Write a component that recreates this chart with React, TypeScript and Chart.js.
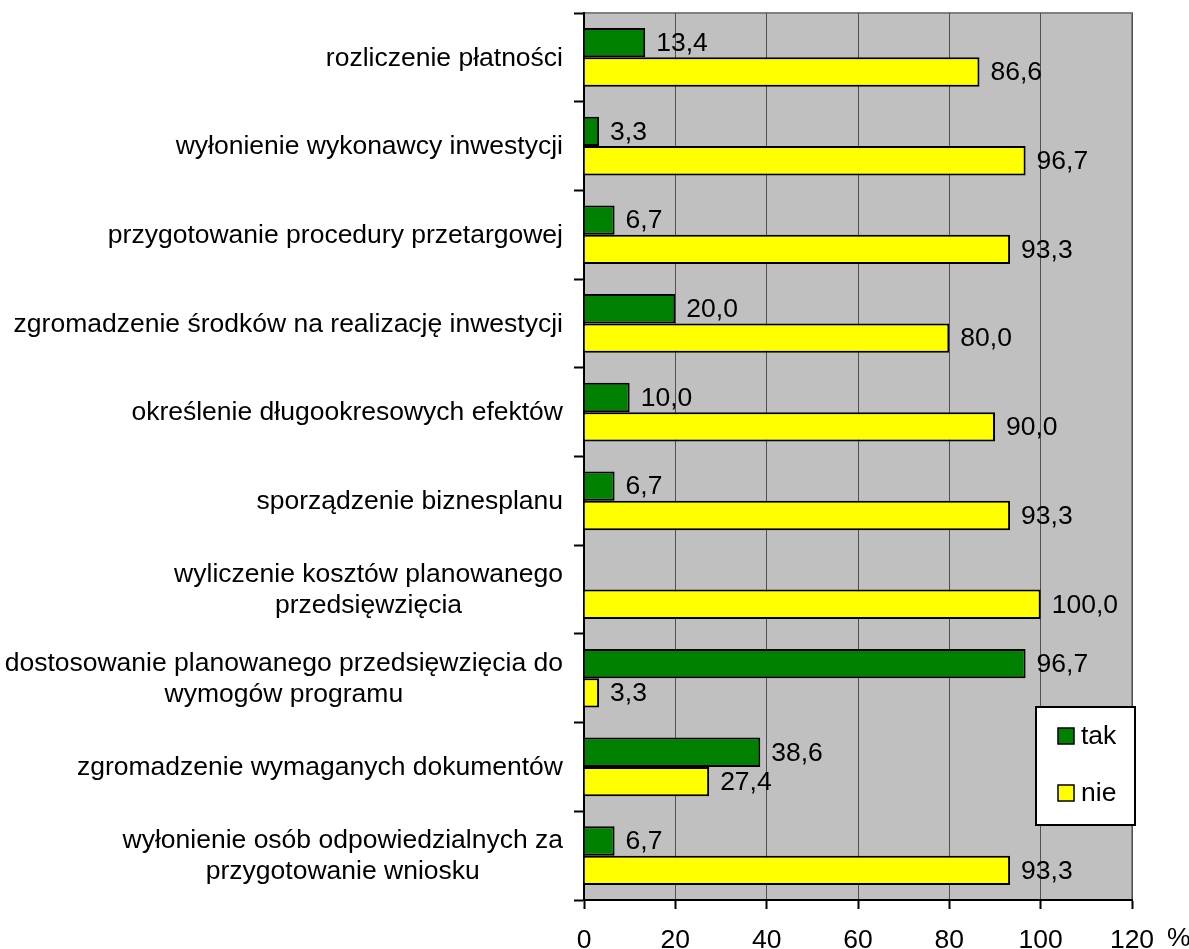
import React, { useEffect, useRef } from "react";
import { Chart, registerables } from "chart.js";

Chart.register(...registerables);

const FONT = "'Liberation Sans', Arial, sans-serif";
const FONT_SIZE = 26.5;

const categories: (string | string[])[] = [
  "rozliczenie płatności",
  "wyłonienie wykonawcy inwestycji",
  "przygotowanie procedury przetargowej",
  "zgromadzenie środków na realizację inwestycji",
  "określenie długookresowych efektów",
  "sporządzenie biznesplanu",
  ["wyliczenie kosztów planowanego", "przedsięwzięcia"],
  ["dostosowanie planowanego przedsięwzięcia do", "wymogów programu"],
  "zgromadzenie wymaganych dokumentów",
  ["wyłonienie osób odpowiedzialnych za", "przygotowanie wniosku"],
];

const takValues: (number | null)[] = [13.4, 3.3, 6.7, 20.0, 10.0, 6.7, null, 96.7, 38.6, 6.7];
const nieValues: (number | null)[] = [86.6, 96.7, 93.3, 80.0, 90.0, 93.3, 100.0, 3.3, 27.4, 93.3];

const xTicks = [0, 20, 40, 60, 80, 100, 120];
const unitLabel = "%";

const fmt = (v: number) => v.toFixed(1).replace(".", ",");

// gray plot background and outer frame
const plotBackground = {
  id: "plotBackground",
  beforeDraw(chart: any) {
    const { ctx, chartArea: a } = chart;
    ctx.save();
    ctx.fillStyle = "#c0c0c0";
    ctx.fillRect(a.left, a.top, a.right - a.left, a.bottom - a.top);
    ctx.strokeStyle = "#808080";
    ctx.lineWidth = 2;
    ctx.beginPath();
    ctx.moveTo(a.left, a.top);
    ctx.lineTo(a.right, a.top);
    ctx.lineTo(a.right, a.bottom);
    ctx.stroke();
    ctx.restore();
  },
};

// category names: block right-aligned to the axis, lines centred within the block
const categoryLabels = {
  id: "categoryLabels",
  afterDraw(chart: any) {
    const { ctx } = chart;
    const y = chart.scales.y;
    const right = chart.chartArea.left - 21;
    ctx.save();
    ctx.font = `${FONT_SIZE}px ${FONT}`;
    ctx.fillStyle = "#000";
    ctx.textAlign = "center";
    ctx.textBaseline = "middle";
    categories.forEach((cat, i) => {
      const lines = Array.isArray(cat) ? cat : [cat];
      const w = Math.max(...lines.map((l) => ctx.measureText(l).width));
      const cx = right - w / 2;
      const cy = y.getPixelForValue(i);
      lines.forEach((l, j) => {
        ctx.fillText(l, cx, cy + (j - (lines.length - 1) / 2) * 31 + 1);
      });
    });
    ctx.restore();
  },
};

// value labels at the end of every bar
const valueLabels = {
  id: "valueLabels",
  afterDatasetsDraw(chart: any) {
    const { ctx } = chart;
    ctx.save();
    ctx.font = `${FONT_SIZE}px ${FONT}`;
    ctx.fillStyle = "#000";
    ctx.textAlign = "left";
    ctx.textBaseline = "middle";
    chart.data.datasets.forEach((ds: any, di: number) => {
      const meta = chart.getDatasetMeta(di);
      meta.data.forEach((bar: any, i: number) => {
        const v = ds.data[i];
        if (v === null || v === undefined) return;
        ctx.fillText(fmt(v), bar.x + 11, bar.y + 1);
      });
    });
    ctx.restore();
  },
};

// unit sign after the last x tick, and the boxed legend
const extras = {
  id: "extras",
  afterDraw(chart: any) {
    const { ctx, chartArea: a } = chart;
    ctx.save();
    ctx.font = `${FONT_SIZE}px ${FONT}`;
    ctx.fillStyle = "#000";
    ctx.textAlign = "left";
    ctx.textBaseline = "middle";
    ctx.fillText(unitLabel, a.right + 35, a.bottom + 39);

    const bx = 1036, by = 707, bw = 99, bh = 118;
    ctx.fillStyle = "#fff";
    ctx.fillRect(bx, by, bw, bh);
    ctx.strokeStyle = "#000";
    ctx.lineWidth = 2;
    ctx.strokeRect(bx, by, bw, bh);
    chart.data.datasets.forEach((ds: any, i: number) => {
      const sy = 728 + i * 57;
      ctx.fillStyle = ds.backgroundColor;
      ctx.fillRect(1058, sy, 16, 16);
      ctx.lineWidth = 1.5;
      ctx.strokeStyle = "#000";
      ctx.strokeRect(1058, sy, 16, 16);
      ctx.fillStyle = "#000";
      ctx.fillText(ds.label, 1081, sy + 9);
    });
    ctx.restore();
  },
};

export default function App() {
  const ref = useRef<HTMLCanvasElement | null>(null);

  useEffect(() => {
    if (!ref.current) return;
    const chart = new Chart(ref.current, {
      type: "bar",
      data: {
        labels: categories as any,
        datasets: [
          {
            label: "tak",
            data: takValues,
            backgroundColor: "#008000",
            borderColor: "#000",
            borderWidth: 2,
          },
          {
            label: "nie",
            data: nieValues,
            backgroundColor: "#ffff00",
            borderColor: "#000",
            borderWidth: 2,
          },
        ],
      },
      options: {
        indexAxis: "y",
        animation: false,
        responsive: false,
        maintainAspectRatio: false,
        datasets: { bar: { categoryPercentage: 0.662, barPercentage: 1 } },
        layout: { padding: { top: 13, right: 57, left: 0, bottom: 0 } },
        plugins: {
          legend: { display: false },
          tooltip: { enabled: false },
        },
        scales: {
          x: {
            min: 0,
            max: 120,
            afterBuildTicks(scale: any) {
              scale.ticks = xTicks.map((v) => ({ value: v }));
            },
            afterFit(scale: any) {
              scale.height = 49;
            },
            grid: {
              color: "#505050",
              lineWidth: 1,
              tickColor: "#000",
              tickLength: 9,
              tickWidth: 2,
            },
            border: { color: "#000", width: 2 },
            ticks: {
              color: "#000",
              font: { family: FONT, size: FONT_SIZE },
              padding: 16,
              maxRotation: 0,
            },
          },
          y: {
            afterFit(scale: any) {
              scale.width = 584;
            },
            grid: {
              drawOnChartArea: false,
              tickColor: "#000",
              tickLength: 10,
              tickWidth: 2,
              offset: true,
            },
            border: { color: "#000", width: 2 },
            ticks: { display: false },
          },
        },
      },
      plugins: [plotBackground, valueLabels, categoryLabels, extras],
    });
    return () => chart.destroy();
  }, []);

  return (
    <div style={{ position: "absolute", left: 0, top: 0, width: 1189, height: 949, background: "#fff" }}>
      <canvas ref={ref} width={1189} height={949} style={{ width: 1189, height: 949, display: "block" }} />
    </div>
  );
}
